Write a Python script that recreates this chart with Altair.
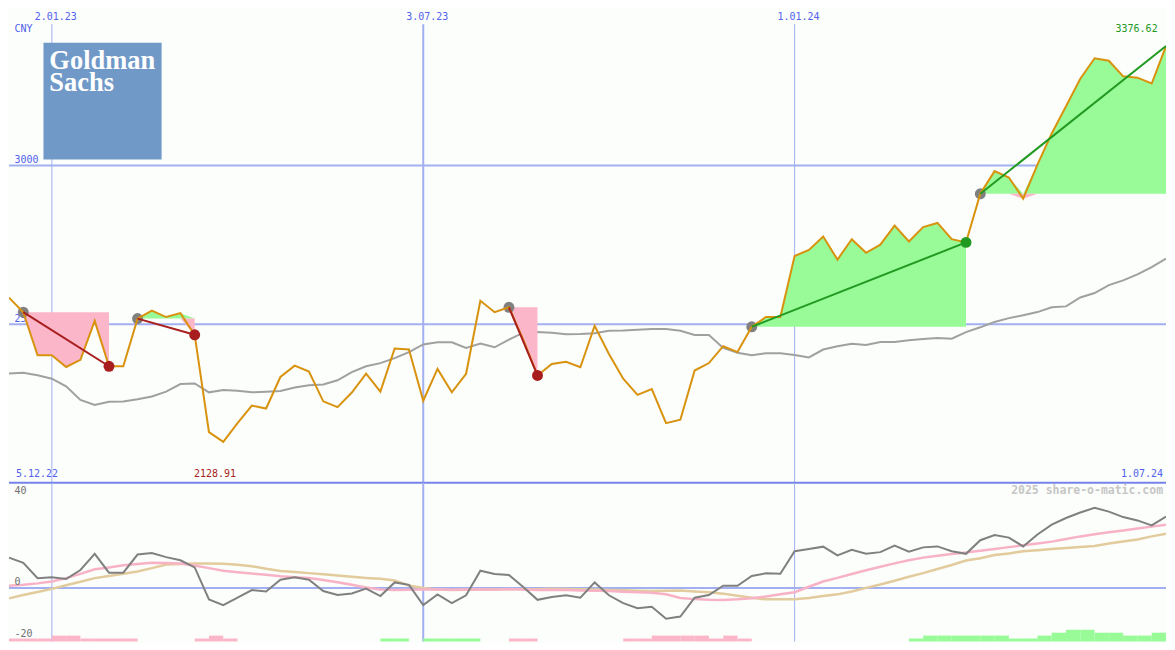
import altair as alt
import pandas as pd
import numpy as np

# ------------------------------------------------------------------ data
first_week = "2022-12-12"

price = [2583.7, 2537.7, 2401.8, 2401.8, 2365.0, 2387.4, 2510.1, 2367.2, 2367.2, 2517.5,
         2542.9, 2522.4, 2534.7, 2466.3, 2159.5, 2128.91, 2188.0, 2243.2, 2234.0, 2333.4,
         2369.0, 2350.6, 2256.7, 2238.3, 2284.3, 2343.6, 2287.4, 2423.3, 2420.2, 2258.6,
         2358.9, 2285.3, 2343.6, 2573.6, 2537.7, 2553.1, 2450.9, 2338.3, 2374.2, 2381.3,
         2364.1, 2494.8, 2405.8, 2328.2, 2277.0, 2295.4, 2188.0, 2198.5, 2353.7, 2377.3,
         2430.4, 2412.0, 2491.7, 2522.4, 2522.4, 2714.7, 2734.0, 2776.1, 2703.4, 2767.8,
         2724.8, 2750.6, 2810.7, 2760.7, 2805.8, 2819.0, 2767.8, 2757.7, 2911.0, 2982.5,
         2962.3, 2895.7, 3003.1, 3101.2, 3187.1, 3273.9, 3338.3, 3330.4, 3281.3, 3277.0,
         3258.6, 3376.62]

avg_price = [2344, 2347, 2339, 2328, 2304, 2261, 2245, 2255, 2256, 2263,
             2272, 2287, 2311, 2313, 2285, 2292, 2290, 2285, 2287, 2289,
             2300, 2307, 2310, 2323, 2349, 2367, 2377, 2393, 2412, 2436,
             2443, 2443, 2425, 2439, 2427, 2451, 2473, 2475, 2473, 2468,
             2469, 2471, 2479, 2480, 2482, 2485, 2485, 2479, 2466, 2466,
             2425, 2410, 2402, 2408, 2408, 2403, 2395, 2420, 2430, 2438,
             2434, 2444, 2444, 2449, 2453, 2456, 2454, 2475, 2490, 2507,
             2519, 2528, 2538, 2553, 2556, 2584, 2598, 2623, 2638, 2657,
             2680, 2707]

momentum = [12.7, 10.5, 4.1, 4.5, 3.7, 7.5, 14.3, 6.4, 6.4, 14.0,
            14.6, 12.9, 11.6, 8.6, -4.8, -7.2, -4.1, -0.9, -1.5, 3.4,
            4.5, 3.4, -1.3, -3.0, -2.3, -0.3, -3.4, 2.3, 1.3, -7.2,
            -2.7, -6.4, -3.1, 7.2, 5.8, 5.4, 0.4, -5.0, -3.8, -3.1,
            -4.1, 2.3, -3.1, -6.4, -8.5, -7.9, -12.9, -12.0, -4.1, -3.0,
            0.9, 0.9, 5.0, 6.1, 5.9, 15.4, 16.3, 17.3, 13.6, 16.0,
            14.3, 15.0, 17.7, 15.2, 17.0, 17.4, 15.4, 14.3, 20.0, 22.2,
            21.1, 17.4, 22.4, 26.5, 29.3, 31.6, 33.6, 32.0, 29.7, 28.3,
            26.2, 29.9]

signal_fast = [0.9, 1.3, 1.9, 2.7, 4.1, 5.9, 7.8, 8.6, 9.5, 10.0,
               10.5, 10.4, 10.2, 9.4, 8.3, 7.2, 6.6, 6.0, 5.5, 4.9,
               4.5, 4.2, 3.3, 2.4, 1.3, 0.2, -0.7, -0.9, -0.8, -0.7,
               -0.6, -0.8, -0.7, -0.6, -0.8, -0.5, -0.7, -0.9, -0.8, -0.9,
               -1.1, -1.2, -1.3, -1.6, -1.8, -2.0, -2.7, -4.2, -4.7, -5.0,
               -5.1, -4.8, -4.3, -3.6, -2.7, -1.8, 0.5, 2.7, 4.2, 5.8,
               7.4, 8.9, 10.3, 11.6, 12.7, 13.5, 14.2, 14.8, 15.6, 16.3,
               17.1, 17.9, 18.6, 19.4, 20.5, 21.6, 22.5, 23.3, 24.1, 24.9,
               25.7, 26.5]

signal_slow = [-4.4, -3.0, -1.7, -0.4, 1.1, 2.6, 4.1, 5.0, 5.9, 6.9,
               8.3, 9.8, 10.0, 10.2, 10.2, 10.1, 9.7, 9.1, 8.0, 7.1,
               6.7, 6.2, 5.7, 5.2, 4.7, 4.2, 3.8, 3.1, 1.0, 0.0,
               -0.7, -0.9, -0.8, -0.8, -0.6, -0.6, -0.6, -0.6, -0.4, -0.5,
               -0.6, -0.7, -0.9, -1.0, -1.2, -1.3, -1.2, -1.1, -1.5, -1.8,
               -2.4, -3.3, -4.1, -4.8, -4.8, -4.8, -4.2, -3.4, -2.7, -1.5,
               0.0, 1.4, 3.0, 4.7, 6.2, 7.9, 9.6, 11.5, 12.4, 13.8,
               14.4, 15.4, 15.8, 16.3, 16.7, 17.2, 17.6, 18.6, 19.5, 20.3,
               21.6, 22.7]

# weekly trend strength (one value per week interval, sign = direction)
trend_level = [-1, -1, -1, -2, -2, -1, -1, -1, -1, 0,
               0, 0, 0, -1, -2, -1, 0, 0, 0, 0,
               0, 0, 0, 0, 0, 0, 1, 1, 0, 1,
               1, 1, 1, 0, 0, -1, -1, 0, 0, 0,
               0, 0, 0, -1, -1, -2, -2, -2, -2, -1,
               -2, -1, 0, 0, 0, 0, 0, 0, 0, 0,
               0, 0, 0, 1, 2, 2, 2, 2, 2, 2,
               1, 1, 2, 3, 4, 4, 3, 3, 2, 2,
               3]

sig_start = [1, 9, 35, 52, 68]
sig_end = [7, 13, 37, 67, 81]
sig_kind = ["loss", "loss", "loss", "gain", "gain"]
sig_closed = [True, True, True, True, False]

year_lines = ["2023-01-02", "2024-01-01"]
mid_lines = ["2023-07-03"]
price_grid = [2500, 3000]
price_floor = 2000
price_ceiling = 3495
osc_domain = [-22.45, 44.1]
osc_ticks = [40, -20]
osc_zero = [0]
range_labels = ["5.12.22", "1.07.24"]
currency = "CNY"
watermark = "2025 share-o-matic.com"
logo_words = ["Goldman", "Sachs"]

# ------------------------------------------------------------------ style
W, H1, H2 = 1159, 475, 159
SX = W / 1175
SY = (H1 + H2) / 650
BG = "#fcfefb"
GRID = "#a2b0f2"
SEP = "#7484ea"
BLUE = "#5262ee"
PRICE = "#d8920e"
AVG = "#a0a0a0"
MOM = "#808080"
FAST = "#f8b2c6"
SLOW = "#e2cb9c"
GREEN_AREA = "#98fb98"
PINK_AREA = "#fbb6c9"
RED = "#a81e1e"
GREEN = "#229a22"
LOGO = "#7099c8"
MONO = "DejaVu Sans Mono"

dates = pd.date_range(first_week, periods=len(price), freq="7D")


def dt(d):
    return alt.DateTime(year=d.year, month=d.month, date=d.day)


xs = alt.Scale(domain=[dt(dates[0]), dt(dates[-1])])
X = alt.X("date:T", scale=xs, axis=None)
ys_top = alt.Scale(domain=[price_floor, price_ceiling])
ys_low = alt.Scale(domain=osc_domain)
ys_bar = alt.Scale(domain=[0, 163 / 3])
kind_line = alt.Scale(domain=["gain", "loss"], range=[GREEN, RED])
dir_area = alt.Scale(domain=["up", "down"], range=[GREEN_AREA, PINK_AREA])

series = pd.DataFrame({"date": dates, "price": price, "avg": avg_price,
                       "mom": momentum, "fast": signal_fast, "slow": signal_slow})

area_rows, trend_rows, start_rows, end_rows = [], [], [], []
for s, (a, b, kind, closed) in enumerate(zip(sig_start, sig_end, sig_kind, sig_closed)):
    lvl = price[a]
    for k in range(a, b + 1):
        area_rows.append({"sig": s, "date": dates[k], "level": lvl,
                          "up": max(price[k], lvl), "down": min(price[k], lvl)})
    trend_rows.append({"sig": s, "kind": kind, "date": dates[a], "p": price[a]})
    trend_rows.append({"sig": s, "kind": kind, "date": dates[b], "p": price[b]})
    start_rows.append({"date": dates[a], "p": price[a]})
    if closed:
        end_rows.append({"date": dates[b], "p": price[b], "kind": kind})
areas = pd.DataFrame(area_rows)
trends = pd.DataFrame(trend_rows)
starts = pd.DataFrame(start_rows)
ends = pd.DataFrame(end_rows)

bars = pd.DataFrame({"d0": dates[:-1], "d1": dates[1:], "lvl": trend_level})
bars = bars[bars["lvl"] != 0].copy()
bars["h"] = bars["lvl"].abs()
bars["dir"] = np.where(bars["lvl"] > 0, "up", "down")


def vlabels(lst):
    d = pd.to_datetime(pd.Series(lst))
    return pd.DataFrame({"date": d, "label": [f"{x.day}.{x.month:02d}.{x.year % 100}" for x in d]})


thin_df = vlabels(year_lines)
thick_df = vlabels(mid_lines)
all_v = pd.concat([thin_df, thick_df])
grid_df = pd.DataFrame({"v": price_grid, "t": [str(v) for v in price_grid]})
one = pd.DataFrame({"a": [0]})

pmax = max(price)
pmin = min(price)
kmax = price.index(pmax)
kmin = price.index(pmin)
ext_df = pd.DataFrame({"date": [dates[kmax], dates[kmin]],
                       "t": [f"{pmax:.2f}", f"{pmin:.2f}"]})

# ------------------------------------------------------------------ top panel
Yt = lambda f: alt.Y(f, scale=ys_top, axis=None)

hgrid = alt.Chart(grid_df).mark_rule(color=GRID, strokeWidth=2).encode(y=Yt("v:Q"))
sep = alt.Chart(pd.DataFrame({"v": [price_floor]})).mark_rule(color=SEP, strokeWidth=2).encode(y=Yt("v:Q"))
vthin = alt.Chart(thin_df).mark_rule(color=GRID, strokeWidth=1).encode(
    x=X, y=alt.value(16 * SY), y2=alt.value(H1))
vthick = alt.Chart(thick_df).mark_rule(color=GRID, strokeWidth=2).encode(
    x=X, y=alt.value(16 * SY), y2=alt.value(H1))
vtext = alt.Chart(all_v).mark_text(font=MONO, fontSize=10, color=BLUE, align="center",
                                   baseline="middle", dx=4 * SX).encode(
    x=X, y=alt.value(9 * SY), text="label:N")
gtext = alt.Chart(grid_df).mark_text(font=MONO, fontSize=10, color=BLUE, align="left",
                                     baseline="middle", dy=-5.5 * SY).encode(
    x=alt.value(5.5 * SX), y=Yt("v:Q"), text="t:N")
cny = alt.Chart(one).mark_text(font=MONO, fontSize=10, color=BLUE, align="left",
                               baseline="middle").encode(
    x=alt.value(5.5 * SX), y=alt.value(21 * SY), text=alt.value(currency))
r_left = alt.Chart(one).mark_text(font=MONO, fontSize=10, color=BLUE, align="left",
                                  baseline="middle").encode(
    x=alt.value(7 * SX), y=alt.value(478 * SY), text=alt.value(range_labels[0]))
r_right = alt.Chart(one).mark_text(font=MONO, fontSize=10, color=BLUE, align="right",
                                   baseline="middle").encode(
    x=alt.value(1172 * SX), y=alt.value(478 * SY), text=alt.value(range_labels[1]))
t_max = alt.Chart(ext_df.iloc[[0]]).mark_text(font=MONO, fontSize=10, color=GREEN, align="right",
                                              baseline="middle", dx=-8.5 * SX).encode(
    x=X, y=alt.value(21 * SY), text="t:N")
t_min = alt.Chart(ext_df.iloc[[1]]).mark_text(font=MONO, fontSize=10, color=RED, align="center",
                                              baseline="middle", dx=-8.5 * SX).encode(
    x=X, y=alt.value(478 * SY), text="t:N")

avg_line = alt.Chart(series).mark_line(color=AVG, strokeWidth=2, clip=True).encode(x=X, y=Yt("avg:Q"))
green_area = alt.Chart(areas).mark_area(color=GREEN_AREA, opacity=1, clip=True).encode(
    x=X, y=Yt("up:Q"), y2="level:Q", detail="sig:N")
pink_area = alt.Chart(areas).mark_area(color=PINK_AREA, opacity=1, clip=True).encode(
    x=X, y=Yt("down:Q"), y2="level:Q", detail="sig:N")
start_pts = alt.Chart(starts).mark_circle(size=120, color="#808080", opacity=1).encode(x=X, y=Yt("p:Q"))
price_line = alt.Chart(series).mark_line(color=PRICE, strokeWidth=2, clip=True).encode(x=X, y=Yt("price:Q"))
trend_lines = alt.Chart(trends).mark_line(strokeWidth=2, clip=True).encode(
    x=X, y=Yt("p:Q"), detail="sig:N",
    color=alt.Color("kind:N", scale=kind_line, legend=None))
end_pts = alt.Chart(ends).mark_circle(size=120, opacity=1).encode(
    x=X, y=Yt("p:Q"), color=alt.Color("kind:N", scale=kind_line, legend=None))

logo_box = alt.Chart(one).mark_rect(color=LOGO).encode(
    x=alt.value(35 * SX), x2=alt.value(155 * SX), y=alt.value(35 * SY), y2=alt.value(155 * SY))
logo_text = alt.Chart(one).mark_text(font="Liberation Serif", fontWeight="bold", fontSize=26.5,
                                     lineHeight=22.5 * SY, color="white", align="left",
                                     baseline="alphabetic").encode(
    x=alt.value(41 * SX), y=alt.value(62 * SY), text=alt.value(logo_words))

top = alt.layer(
    hgrid, vthin, vthick, gtext, avg_line, green_area, pink_area, start_pts,
    price_line, trend_lines, end_pts, sep, vtext, cny, r_left, r_right, t_max, t_min,
    logo_box, logo_text,
).properties(width=W, height=H1)

# ------------------------------------------------------------------ lower panel
Yl = lambda f: alt.Y(f, scale=ys_low, axis=None)

lthin = alt.Chart(thin_df).mark_rule(color=GRID, strokeWidth=1).encode(
    x=X, y=alt.value(0), y2=alt.value(H2))
lthick = alt.Chart(thick_df).mark_rule(color=GRID, strokeWidth=2).encode(
    x=X, y=alt.value(0), y2=alt.value(H2))
zero = alt.Chart(pd.DataFrame({"v": osc_zero})).mark_rule(color=GRID, strokeWidth=2).encode(y=Yl("v:Q"))
bar_marks = alt.Chart(bars).mark_rect(opacity=1).encode(
    x=alt.X("d0:T", scale=xs, axis=None), x2="d1:T",
    y=alt.Y("h:Q", scale=ys_bar, axis=None), y2=alt.datum(0),
    color=alt.Color("dir:N", scale=dir_area, legend=None))
slow_line = alt.Chart(series).mark_line(color=SLOW, strokeWidth=2.5, clip=True).encode(x=X, y=Yl("slow:Q"))
fast_line = alt.Chart(series).mark_line(color=FAST, strokeWidth=2.5, clip=True).encode(x=X, y=Yl("fast:Q"))
mom_line = alt.Chart(series).mark_line(color=MOM, strokeWidth=2, clip=True).encode(x=X, y=Yl("mom:Q"))
tick_df = pd.DataFrame({"v": osc_ticks, "t": [str(v) for v in osc_ticks]})
zero_df = pd.DataFrame({"v": osc_zero, "t": [str(v) for v in osc_zero]})
ticks = alt.Chart(tick_df).mark_text(font=MONO, fontSize=10, color="#707070", align="left",
                                     baseline="middle", dy=-1.5).encode(
    x=alt.value(5.5 * SX), y=Yl("v:Q"), text="t:N")
zero_t = alt.Chart(zero_df).mark_text(font=MONO, fontSize=10, color="#707070", align="left",
                                      baseline="middle", dy=-6 * SY).encode(
    x=alt.value(5.5 * SX), y=Yl("v:Q"), text="t:N")
wm = alt.Chart(one).mark_text(font=MONO, fontSize=11.5, fontWeight="bold", color="#c6c6c6",
                              align="right", baseline="middle").encode(
    x=alt.value(1172 * SX), y=alt.value((496 - 487) * SY), text=alt.value(watermark))

low = alt.layer(
    lthin, lthick, zero, bar_marks, slow_line, fast_line, mom_line, ticks, zero_t, wm
).resolve_scale(y="independent").properties(width=W, height=H2)

chart = alt.vconcat(top, low, spacing=0, bounds="flush").properties(
    background=BG, padding=0
).configure_view(strokeWidth=0).resolve_scale(color="independent")

chart.save("out.html", embed_options={"renderer": "svg", "actions": False})
